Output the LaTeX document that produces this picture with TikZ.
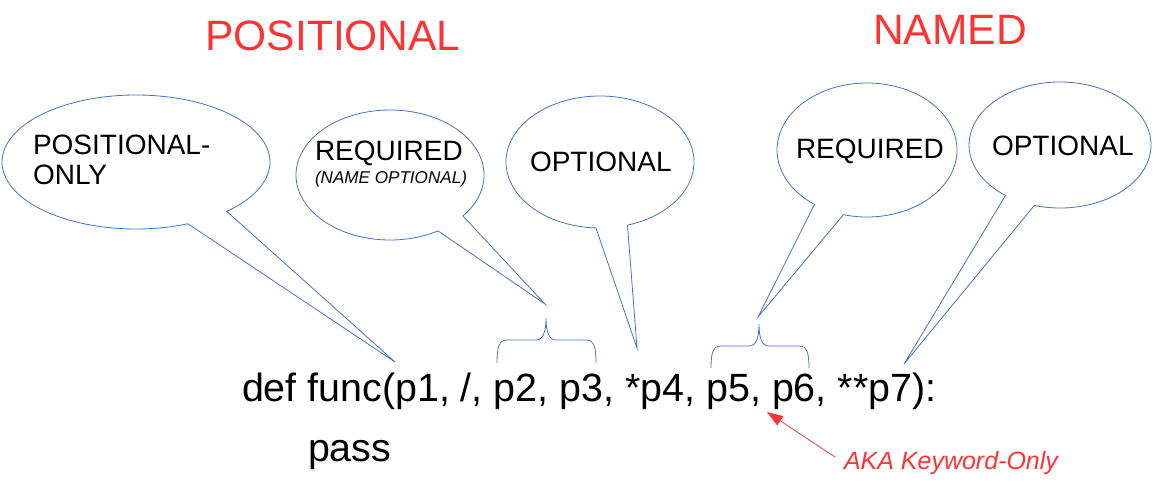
\documentclass[tikz,border=0pt]{standalone}
\usepackage{fontspec}
\setmainfont{Liberation Sans}
\usetikzlibrary{arrows.meta,calc}
\definecolor{calloutblue}{RGB}{68,114,196}
\definecolor{hdrred}{RGB}{255,51,51}
\begin{document}
\begin{tikzpicture}[x=1pt,y=1pt,
  callout/.style={draw=calloutblue,line width=0.8pt,line join=miter},
  bracepath/.style={draw=calloutblue,line width=0.8pt},
  lbl/.style={anchor=base west,inner sep=0pt,outer sep=0pt,font=\fontsize{28}{34}\selectfont},
  sublbl/.style={anchor=base west,inner sep=0pt,outer sep=0pt,font=\fontsize{17.1}{20}\selectfont\itshape},
  header/.style={anchor=base,inner sep=0pt,outer sep=0pt,text=hdrred,font=\fontsize{42.5}{50}\selectfont},
  code/.style={anchor=base west,inner sep=0pt,outer sep=0pt,font=\fontsize{39.4}{47}\selectfont},
  note/.style={anchor=base west,inner sep=0pt,outer sep=0pt,text=hdrred,font=\fontsize{25}{30}\selectfont\itshape},
  redarrow/.style={draw=hdrred,line width=0.8pt,-{Triangle[length=16pt,width=11pt]}},
]
\useasboundingbox (0,0) rectangle (1162,-488);

% headers
\node[header] (hpos) at (333,-50) {POSITIONAL};
\node[header] (hnamed) at (950,-44) {NAMED};

% callout 1: positional-only
\coordinate (c1) at (136,-162);
\coordinate (t1) at (395,-362);
\draw[callout] ($(c1)+(-47.4:134pt and 67pt)$) arc[start angle=-47.4,end angle=292.8,x radius=134pt,y radius=67pt] -- (t1) -- cycle;
\node[lbl] (posonly1) at (33,-154) {POSITIONAL-};
\node[lbl] (posonly2) at (33,-184) {ONLY};

% callout 2: required (name optional)
\coordinate (c2) at (390,-175);
\coordinate (t2) at (545,-304);
\draw[callout] ($(c2)+(-39.1:94pt and 65pt)$) arc[start angle=-39.1,end angle=300.7,x radius=94pt,y radius=65pt] -- (t2) -- cycle;
\node[lbl] (req1) at (315,-160) {REQUIRED};
\node[sublbl] (req1sub) at (315,-183) {(NAME OPTIONAL)};

% callout 3: optional (positional)
\coordinate (c3) at (600,-162);
\coordinate (t3) at (637,-348);
\draw[callout] ($(c3)+(-73:94pt and 66pt)$) arc[start angle=-73,end angle=267.5,x radius=94pt,y radius=66pt] -- (t3) -- cycle;
\node[lbl] (opt1) at (530,-171) {OPTIONAL};

% callout 4: named required
\coordinate (c4) at (867,-150);
\coordinate (t4) at (758,-317);
\draw[callout] ($(c4)+(254.8:90pt and 67pt)$) arc[start angle=254.8,end angle=594.3,x radius=90pt,y radius=67pt] -- (t4) -- cycle;
\node[lbl] (req2) at (796,-158) {REQUIRED};

% callout 5: named optional
\coordinate (c5) at (1060,-145);
\coordinate (t5) at (904,-364);
\draw[callout] ($(c5)+(253.6:91pt and 63pt)$) arc[start angle=253.6,end angle=593.2,x radius=91pt,y radius=63pt] -- (t5) -- cycle;
\node[lbl] (opt2) at (992,-155) {OPTIONAL};

% braces
\draw[bracepath] (497,-363) .. controls (497,-347) and (499,-340) .. (507,-340) -- (536,-340)
  .. controls (543,-340) and (546,-332) .. (546,-318)
  .. controls (546,-332) and (549,-340) .. (556,-340) -- (586,-340)
  .. controls (594,-340) and (596,-347) .. (596,-363);
\draw[bracepath] (711,-368) .. controls (711,-353) and (713,-346) .. (721,-346) -- (749,-346)
  .. controls (756,-346) and (759,-338) .. (759,-324)
  .. controls (759,-338) and (762,-346) .. (769,-346) -- (799,-346)
  .. controls (807,-346) and (809,-353) .. (809,-368);

% code
\node[code] (def) at (242,-401) {def func(p1, /, p2, p3, *p4, p5, p6, **p7):};
\node[code] (pass) at (308,-461) {pass};

% note
\node[note] (aka) at (844,-469) {AKA Keyword-Only};
\coordinate (akastart) at (835,-457);
\coordinate (akatip) at (767,-412);
\draw[redarrow] (akastart) -- (akatip);
\end{tikzpicture}
\end{document}
